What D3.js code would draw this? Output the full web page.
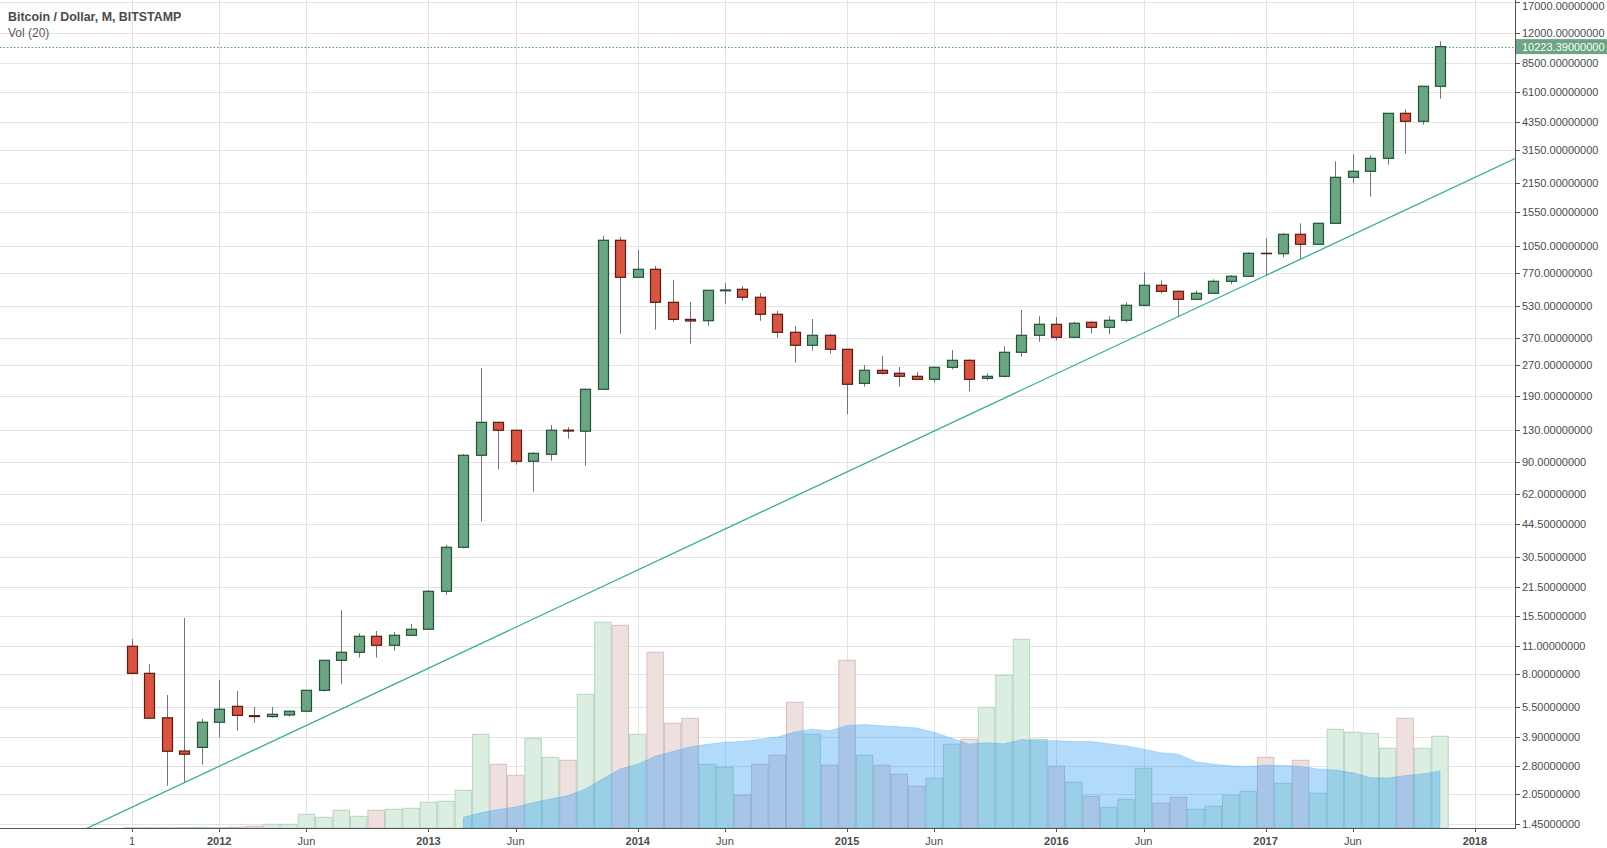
<!DOCTYPE html>
<html><head><meta charset="utf-8">
<script src="https://cdn.jsdelivr.net/npm/d3@7"></script>
<style>
body{margin:0;background:#fff;overflow:hidden}
svg{display:block}
text{font-family:"Liberation Sans",Arial,sans-serif}
</style></head><body>
<svg id="c" width="1607" height="848"></svg>
<script>
// ---------- DATA ----------
const months = ["2011-08","2011-09","2011-10","2011-11","2011-12",
"2012-01","2012-02","2012-03","2012-04","2012-05","2012-06","2012-07","2012-08","2012-09","2012-10","2012-11","2012-12",
"2013-01","2013-02","2013-03","2013-04","2013-05","2013-06","2013-07","2013-08","2013-09","2013-10","2013-11","2013-12",
"2014-01","2014-02","2014-03","2014-04","2014-05","2014-06","2014-07","2014-08","2014-09","2014-10","2014-11","2014-12",
"2015-01","2015-02","2015-03","2015-04","2015-05","2015-06","2015-07","2015-08","2015-09","2015-10","2015-11","2015-12",
"2016-01","2016-02","2016-03","2016-04","2016-05","2016-06","2016-07","2016-08","2016-09","2016-10","2016-11","2016-12",
"2017-01","2017-02","2017-03","2017-04","2017-05","2017-06","2017-07","2017-08","2017-09","2017-10","2017-11"];

const open  = [10.99,8.07,4.86,3.33,3.47,
4.62,5.54,4.98,4.93,5.02,5.24,6.65,9.36,10.26,12.31,11.11,12.45,
13.34,20.56,33.96,96.9,141.1,128.9,90.5,98.0,129.0,127.5,205.6,1124,
737.1,807.4,554.3,456,449.4,632,643,587,483.6,393.8,339.6,380.5,
324.4,220,255.3,246.8,238.4,230.4,264.2,286.1,233.0,238.4,313.5,380.5,
431.4,371.9,441.4,416.9,451.5,535.6,672.9,628.4,573.7,614.2,704.2,745.6,
968.9,965,1203.3,1073.8,1364,2304,2468,2861,4779,4364,6504];
const high  = [11.94,8.98,6.30,15.17,4.80,
7.48,6.60,5.50,5.50,5.26,6.68,9.40,16.56,12.74,13.08,12.93,14.17,
20.87,34.86,98.3,262.1,141.5,129.5,100.0,136.9,133.8,207.0,1184,1167,
1006,838,715,556,638,690.8,667.4,616.4,502.1,423.1,458.3,386.2,
325,271.3,300.6,265.1,250.4,266,321.8,289,246.8,335.7,507.8,472.6,
467.7,445,446,472.6,554,780.2,712.4,635,635,720.4,755,980,
1150,1220,1364,1370,2766,2996,2963,4790,5002,6510,10860];
const low   = [8.05,4.80,2.24,2.32,2.85,
3.88,4.20,4.60,4.87,4.93,5.20,6.55,7.17,9.65,9.65,10.45,12.40,
13.27,19.78,33.5,45.5,82.6,87.1,64.0,91.1,117.0,86.1,204,386.2,
735,405.6,444,345.7,424.6,545.5,564.6,449,370.2,278.5,319.3,308.6,
154.6,211.8,243,211.8,229,222.6,258.3,201.0,228,235,298.3,353.7,
359.4,370,389.3,384.9,441,530,614,472.6,570,610,680.7,740,
754,925.8,904.9,1070,1360,2152,1847,2661,3016,4198,5646];
const close = [8.07,4.84,3.32,3.21,4.62,
5.36,5.00,4.93,5.06,5.24,6.65,9.36,10.26,12.31,11.11,12.45,13.34,
20.56,33.96,96.9,141.1,128.9,90.5,99.1,128.9,127.8,205.6,1124,737.1,
807.4,554.3,456.6,448,635.7,638,587,483.6,393.8,339.6,380.5,324.4,
217.7,255.3,246.8,238.4,230.4,264.2,286.1,230.4,238.4,313.5,380.5,431.4,
371.9,436.3,416.9,451.5,535.6,672.9,628.4,573.7,614.2,704.2,745.6,968.9,
965,1203.3,1073.8,1364,2304,2468,2861,4779,4364,6504,10223.39];
const volume = [300,300,300,500,800,
500,800,1700,3700,3700,13700,10700,17700,11700,17700,18700,19700,
25700,26700,37700,93700,63700,52700,89700,70700,67700,133700,205700,202700,
93700,175700,104700,109700,63700,60700,32700,63700,72700,125700,93700,62700,
167700,72700,62700,53700,41700,49700,83700,88700,120700,152700,188700,88700,
61700,45700,31700,20700,28700,59700,24700,30700,18700,21700,32700,36700,
70700,44700,67700,34700,98700,95700,94700,79700,109700,79700,91700];

const priceTicks = [17000,12000,8500,6100,4350,3150,2150,1550,1050,770,530,370,270,190,130,90,62,44.5,30.5,21.5,15.5,11,8,5.5,3.9,2.8,2.05,1.45];
const timeTickMonths = ["2011-08","2012-01","2012-06","2013-01","2013-06","2014-01","2014-06","2015-01","2015-06","2016-01","2016-06","2017-01","2017-06","2018-01"];
const timeTickLabels = ["1","2012","Jun","2013","Jun","2014","Jun","2015","Jun","2016","Jun","2017","Jun","2018"];
const trendMonths = ["2011-08","2017-11"];
const trendPrices = [1.755,1909];
const lastPrice = 10223.39;
const maLength = 20;

// ---------- LAYOUT ----------
const W = 1607, H = 848;
const plotR = 1515, plotB = 828;
const svg = d3.select("#c");
const parse = d3.timeParse("%Y-%m");
const t0 = parse(months[0]);
const idx = m => d3.timeMonth.count(t0, parse(m));

const x = d3.scaleLinear().domain([0, months.length - 1]).range([132, 1440]);
const step = x(1) - x(0);
const y = d3.scaleLog().domain([1.3842, 17393]).range([plotB, 0]);
const yv = d3.scaleLinear().domain([0, d3.max(volume)]).range([plotB, plotB - 205.7]);

const data = months.map((m, i) => ({m, i, o: open[i], h: high[i], l: low[i], c: close[i], v: volume[i]}));

svg.append("defs").append("clipPath").attr("id", "clip")
  .append("rect").attr("x", 0).attr("y", 0).attr("width", plotR).attr("height", plotB);

const plot = svg.append("g").attr("clip-path", "url(#clip)");

// grid
plot.append("g").selectAll("line").data(priceTicks).join("line")
  .attr("x1", 0).attr("x2", plotR)
  .attr("y1", d => Math.round(y(d)) + 0.5).attr("y2", d => Math.round(y(d)) + 0.5)
  .attr("stroke", "#e3e3e3").attr("stroke-width", 1);
plot.append("g").selectAll("line").data(timeTickMonths).join("line")
  .attr("x1", d => Math.round(x(idx(d))) + 0.5).attr("x2", d => Math.round(x(idx(d))) + 0.5)
  .attr("y1", 0).attr("y2", plotB)
  .attr("stroke", "#e3e3e3").attr("stroke-width", 1);

// volume bars
plot.append("g").selectAll("rect").data(data).join("rect")
  .attr("x", d => x(d.i) - step / 2 + 0.5)
  .attr("width", step - 1)
  .attr("y", d => yv(d.v))
  .attr("height", d => plotB - yv(d.v))
  .attr("fill", d => d.c >= d.o ? "#dcede1" : "#efe0e0")
  .attr("stroke", d => d.c >= d.o ? "#b3d7be" : "#dbbcbc")
  .attr("stroke-width", 1);

// volume MA area
const ma = data.filter(d => d.i >= maLength - 1).map(d => ({
  i: d.i, v: d3.mean(volume.slice(d.i - maLength + 1, d.i + 1))
}));
plot.append("path").datum(ma)
  .attr("d", d3.area().x(d => x(d.i)).y0(plotB).y1(d => yv(d.v)))
  .attr("fill", "rgba(33,150,243,0.35)")
  .attr("stroke", "rgba(33,150,243,0.25)").attr("stroke-width", 1);

// trend line (extended through its two anchors)
{
  const x1 = x(idx(trendMonths[0])), y1 = y(trendPrices[0]);
  const x2 = x(idx(trendMonths[1])), y2 = y(trendPrices[1]);
  const s = (y2 - y1) / (x2 - x1);
  plot.append("line")
    .attr("x1", 0).attr("y1", y1 + s * (0 - x1))
    .attr("x2", plotR).attr("y2", y1 + s * (plotR - x1))
    .attr("stroke", "#38ae99").attr("stroke-width", 1.3);
}

// last price line
plot.append("line")
  .attr("x1", 0).attr("x2", plotR)
  .attr("y1", Math.round(y(lastPrice)) + 0.5).attr("y2", Math.round(y(lastPrice)) + 0.5)
  .attr("stroke", "#4f9a6e").attr("stroke-width", 1).attr("stroke-dasharray", "1.5,2");

// candles
const cg = plot.append("g");
cg.selectAll("line").data(data).join("line")
  .attr("x1", d => Math.round(x(d.i)) + 0.5).attr("x2", d => Math.round(x(d.i)) + 0.5)
  .attr("y1", d => y(d.h)).attr("y2", d => y(d.l))
  .attr("stroke", "#737375").attr("stroke-width", 1);
cg.selectAll("rect").data(data).join("rect")
  .attr("x", d => Math.round(x(d.i)) - 4.5)
  .attr("width", 10)
  .attr("y", d => y(Math.max(d.o, d.c)))
  .attr("height", d => Math.max(0.01, Math.abs(y(d.o) - y(d.c))))
  .attr("fill", d => d.c >= d.o ? "#6ba583" : "#d75442")
  .attr("stroke", d => d.c >= d.o ? "#225437" : "#5b1a13")
  .attr("stroke-width", 1.2);

// axes
svg.append("line").attr("x1", plotR + 0.5).attr("x2", plotR + 0.5).attr("y1", 0).attr("y2", plotB + 1)
  .attr("stroke", "#555").attr("stroke-width", 1);
svg.append("line").attr("x1", 0).attr("x2", plotR + 1).attr("y1", plotB + 0.5).attr("y2", plotB + 0.5)
  .attr("stroke", "#555").attr("stroke-width", 1);

const ya = svg.append("g");
ya.selectAll("line").data(priceTicks).join("line")
  .attr("x1", plotR).attr("x2", plotR + 5)
  .attr("y1", d => Math.round(y(d)) + 0.5).attr("y2", d => Math.round(y(d)) + 0.5)
  .attr("stroke", "#555");
ya.selectAll("text").data(priceTicks).join("text")
  .attr("x", plotR + 7).attr("y", d => Math.max(y(d) + 4, 9.5))
  .attr("font-size", 11).attr("fill", "#4b4b4b")
  .text(d => d.toFixed(8));

// last price label
svg.append("rect").attr("x", plotR + 1).attr("y", y(lastPrice) - 7.5).attr("width", W - plotR - 1).attr("height", 15)
  .attr("fill", "#6ba583");
svg.append("text").attr("x", plotR + 7).attr("y", y(lastPrice) + 4)
  .attr("font-size", 11).attr("fill", "#fff").text(lastPrice.toFixed(8));

const xa = svg.append("g");
xa.selectAll("line").data(timeTickMonths).join("line")
  .attr("x1", d => Math.round(x(idx(d))) + 0.5).attr("x2", d => Math.round(x(idx(d))) + 0.5)
  .attr("y1", plotB).attr("y2", plotB + 4)
  .attr("stroke", "#555");
xa.selectAll("text").data(timeTickMonths).join("text")
  .attr("x", d => x(idx(d))).attr("y", plotB + 17)
  .attr("text-anchor", "middle").attr("font-size", 11)
  .attr("font-weight", (d, i) => /^\d{4}$/.test(timeTickLabels[i]) ? "bold" : "normal")
  .attr("fill", "#4b4b4b")
  .text((d, i) => timeTickLabels[i]);

// legend
svg.append("text").attr("x", 8).attr("y", 21).attr("font-size", 12.4).attr("font-weight", "bold")
  .attr("fill", "#4a4a4a").text("Bitcoin / Dollar, M, BITSTAMP");
svg.append("text").attr("x", 8).attr("y", 37).attr("font-size", 12)
  .attr("fill", "#5a5a5a").text("Vol (20)");
</script></body></html>
